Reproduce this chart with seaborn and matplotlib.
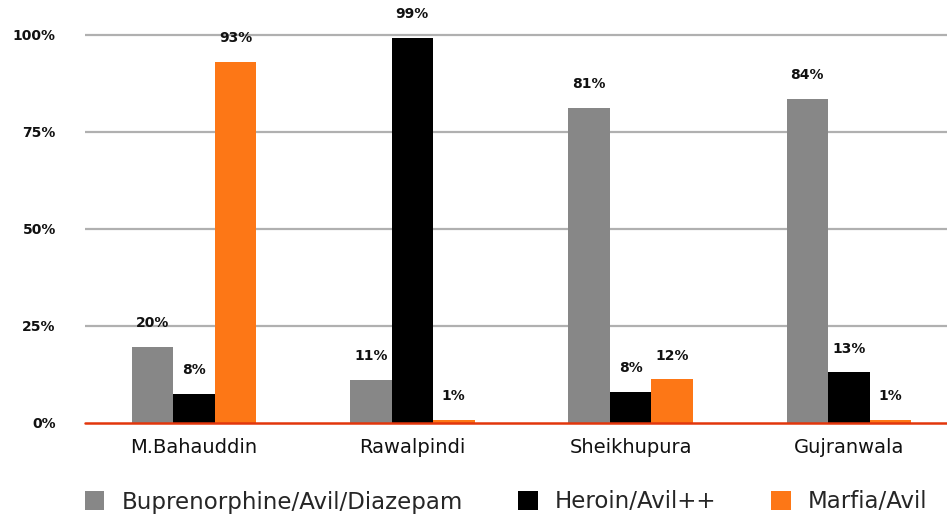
import matplotlib

matplotlib.use("Agg")

import matplotlib.pyplot as plt
import pandas as pd
import seaborn as sns

districts = ["M.Bahauddin", "Rawalpindi", "Sheikhupura", "Gujranwala"]
series = ["Buprenorphine/Avil/Diazepam", "Heroin/Avil++", "Marfia/Avil"]
bupren = [19.6, 11.1, 81.2, 83.5]
heroin = [7.5, 99.2, 8.0, 13.1]
marfia = [93.0, 0.8, 11.3, 0.8]
bupren_labels = ["20%", "11%", "81%", "84%"]
heroin_labels = ["8%", "99%", "8%", "13%"]
marfia_labels = ["93%", "1%", "12%", "1%"]
yticks = [0, 25, 50, 75, 100]
ytick_labels = ["0%", "25%", "50%", "75%", "100%"]

colors = ["#878787", "#000000", "#fd7716"]

df = pd.DataFrame({
    "district": districts * 3,
    "series": [series[0]] * 4 + [series[1]] * 4 + [series[2]] * 4,
    "value": bupren + heroin + marfia,
})

sns.set_theme(style="white")
plt.rcParams["font.family"] = ["DejaVu Sans"]

W, H = 947, 515
fig = plt.figure(figsize=(W / 100, H / 100), dpi=100)
ax = fig.add_axes([85 / W, (H - 423) / H, (W - 85) / W, 423 / H])

sns.barplot(
    data=df, x="district", y="value", hue="series", hue_order=series,
    palette=colors, width=0.57, gap=0, saturation=1, ax=ax, legend=True,
    linewidth=0, edgecolor="none",
)

for cont, labs in zip(ax.containers, [bupren_labels, heroin_labels, marfia_labels]):
    for bar, lab in zip(cont, labs):
        ax.annotate(
            lab, (bar.get_x() + bar.get_width() / 2, bar.get_height()),
            xytext=(0, 17), textcoords="offset points", ha="center", va="center",
            fontsize=10, fontweight="bold", color="#111111",
        )

ax.set_xlim(-0.5, 3.45)
ax.set_ylim(0, 109)
ax.set_yticks(yticks)
ax.set_yticklabels(ytick_labels, fontsize=10, fontweight="bold", color="#111111")
ax.tick_params(axis="y", length=0, pad=21)
ax.tick_params(axis="x", length=0, pad=11, labelsize=14, labelcolor="#111111")
for y in yticks[1:]:
    ax.axhline(y, color="#b0b0b0", lw=1.6, zorder=0)
ax.axhline(0, color="#e2360c", lw=1.8, zorder=5, clip_on=False)
ax.set_xlabel("")
ax.set_ylabel("")
for s in ax.spines.values():
    s.set_visible(False)

handles, labels = ax.get_legend_handles_labels()
ax.get_legend().remove()
fig.legend(
    handles, labels, ncol=3, loc="center left", bbox_to_anchor=(85 / W, (H - 502) / H),
    frameon=False, fontsize=16.5, handlelength=0.85, handleheight=0.85,
    handletextpad=0.75, columnspacing=2.4, borderaxespad=0, borderpad=0,
)

fig.savefig("out.png", dpi=100)
